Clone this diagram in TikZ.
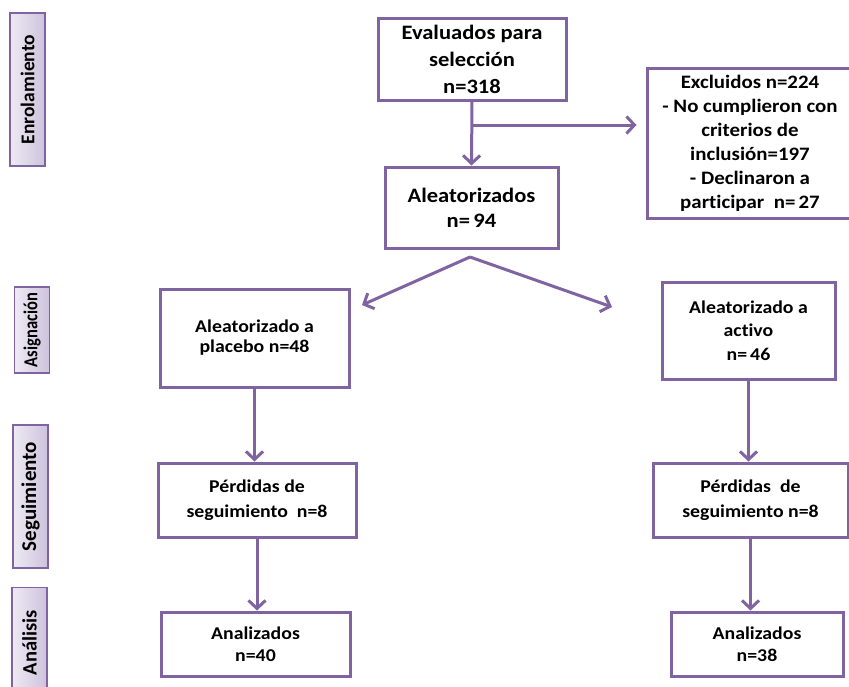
\documentclass[tikz,border=0pt]{standalone}
\usepackage{fontspec}
\setmainfont{Carlito}[FakeStretch=1.1,Ligatures=NoCommon]
\newfontfamily\barfont{Carlito}[Ligatures=NoCommon]
\usetikzlibrary{arrows.meta}
\definecolor{pur}{HTML}{8064A2}
\definecolor{barL}{HTML}{EEEAF4}
\definecolor{barR}{HTML}{CDC2DC}
\begin{document}
\begin{tikzpicture}[x=1pt,y=-1pt,
  box/.style={draw=pur,line width=3pt,fill=white,inner sep=0pt,align=center},
  phase/.style={draw=pur,line width=1.3pt,left color=barL,right color=barR,inner sep=0pt,minimum width=35pt,
    font=\barfont\bfseries},
  arr/.style={draw=pur,line width=3pt,-{Straight Barb[length=8pt,width=17pt,line width=3pt]}},
  fA/.style={font=\bfseries\fontsize{20.5}{27}\selectfont},
  fB/.style={font=\bfseries\fontsize{19}{24}\selectfont},
  fC/.style={font=\bfseries\fontsize{18}{20}\selectfont},
  fD/.style={font=\bfseries\fontsize{18}{23.5}\selectfont},
  fE/.style={font=\bfseries\fontsize{18}{25}\selectfont},
  fF/.style={font=\bfseries\fontsize{18}{22}\selectfont}]
\useasboundingbox (0,0) rectangle (849,686);
\fill[white] (0,0) rectangle (849,686);
% phase bars
\node[phase,minimum height=153pt] (enr) at (27.5,89.5) {\fontsize{19.5}{20}\selectfont\rotatebox{90}{Enrolamiento}};
\node[phase,minimum height=86pt] (asig) at (32,330) {\fontsize{16.5}{17}\selectfont\rotatebox{90}{\scalebox{1}[1.2]{Asignación}}};
\node[phase,minimum height=143pt] (seg) at (30.5,496.5) {\fontsize{21}{22}\selectfont\rotatebox{90}{Seguimiento}};
\node[phase,minimum height=110pt,anchor=north] (anl) at (29.5,587) {\fontsize{20.5}{22}\selectfont\rotatebox{90}{Análisis}};
% boxes
\node[box,fA,minimum width=188pt,minimum height=82pt] (eval) at (472,59) {Evaluados para\\selección\\n=318};
\node[box,fB,minimum width=206pt,minimum height=150pt] (excl) at (750,143) {Excluidos n=224\\- No cumplieron con\\criterios de\\inclusión=197\\- Declinaron a\\participar\ \ n=\,27};
\node[box,fA,font=\bfseries\fontsize{20.5}{25}\selectfont,minimum width=173pt,minimum height=81pt] (aleat) at (471.5,207.5) {Aleatorizados\\n=\,94};
\node[box,fC,minimum width=189pt,minimum height=98pt] (plac) at (254.5,338) {Aleatorizado a\\placebo n=48};
\node[box,fD,minimum width=173pt,minimum height=97pt] (act) at (748.5,330.5) {Aleatorizado a\\activo\\n=\,46};
\node[box,fE,minimum width=198pt,minimum height=74pt] (perdL) at (257,500) {Pérdidas de\\seguimiento\ \ n=8};
\node[box,fE,minimum width=195pt,minimum height=74pt] (perdR) at (750.5,500) {Pérdidas\ \ de\\seguimiento n=8};
\node[box,fF,minimum width=189pt,minimum height=64pt] (analL) at (255.5,644) {Analizados\\n=40};
\node[box,fF,minimum width=172pt,minimum height=64pt] (analR) at (757,644) {Analizados\\n=38};
% connectors
\coordinate (br) at (472,125);
\coordinate (apex) at (470,257);
\coordinate (tipL) at (362,305);
\coordinate (tipR) at (612,307);
\draw[arr] (eval.south) -- (aleat.north);
\draw[arr,shorten >=9pt] (br) -- (excl.west |- br);
\draw[arr] (apex) -- (tipL);
\draw[arr] (apex) -- (tipR);
\draw[arr] (plac.south) -- (plac.south |- perdL.north);
\draw[arr] (perdL.south) -- (perdL.south |- analL.north);
\draw[arr] (act.south) -- (act.south |- perdR.north);
\draw[arr] (perdR.south) -- (perdR.south |- analR.north);
\end{tikzpicture}
\end{document}
